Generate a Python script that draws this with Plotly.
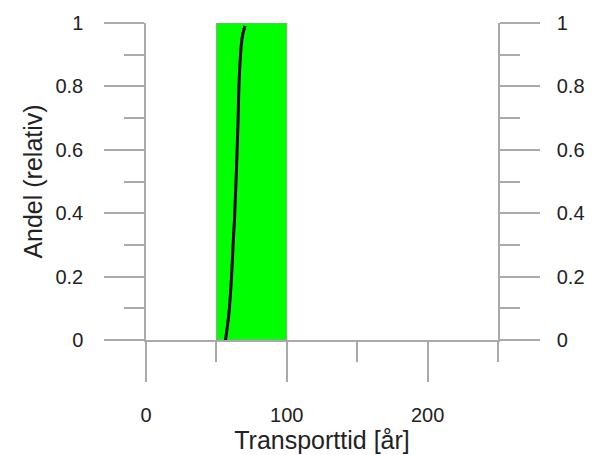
import plotly.graph_objects as go

# Data
interval_start = 50
interval_end = 100
curve_x = [56.5, 58.9, 60.6, 62.4, 62.9, 64.1, 65.3, 66.0, 67.2, 68.4, 70.3]
curve_y = [0.0, 0.084, 0.189, 0.347, 0.384, 0.521, 0.678, 0.799, 0.904, 0.957, 0.991]
x_ticks = [0, 100, 200]
y_ticks = [0, 0.2, 0.4, 0.6, 0.8, 1]
y_tick_labels = ["0", "0.2", "0.4", "0.6", "0.8", "1"]

AX = "#aaaaaa"
TXT = "#222222"
FONT = "Liberation Sans, Arial, sans-serif"

fig = go.Figure()
fig.add_trace(go.Scatter(
    x=[interval_start, interval_end, interval_end, interval_start, interval_start],
    y=[0, 0, 1, 1, 0],
    fill="toself", fillcolor="#00ff00",
    line=dict(color="#9a9a9a", width=1),
    mode="lines", hoverinfo="skip", showlegend=False,
))
fig.add_trace(go.Scatter(
    x=curve_x, y=curve_y, mode="lines",
    line=dict(color="black", width=3, shape="spline"),
    showlegend=False,
))
# invisible trace to activate right axis
fig.add_trace(go.Scatter(x=[0], y=[0], yaxis="y2", mode="markers",
                         marker=dict(opacity=0), showlegend=False, hoverinfo="skip"))

common_y = dict(
    range=[0, 1], showline=True, linecolor=AX, linewidth=1.5,
    ticks="outside", ticklen=40, tickwidth=1.5, tickcolor=AX,
    tickvals=y_ticks, ticktext=y_tick_labels,
    minor=dict(dtick=0.1, ticklen=20, tickwidth=1.5, tickcolor=AX, ticks="outside", showgrid=False),
    showgrid=False, zeroline=False, automargin=False,
    tickfont=dict(family=FONT, size=20, color=TXT),
)

fig.update_layout(
    width=594, height=447,
    margin=dict(l=138, r=104, t=15, b=115),
    paper_bgcolor="white", plot_bgcolor="white",
    font=dict(family=FONT, color=TXT),
    xaxis=dict(
        range=[0, 250], showline=True, linecolor=AX, linewidth=1.5,
        ticks="outside", ticklen=40, tickwidth=1.5, tickcolor=AX,
        tickvals=x_ticks,
        minor=dict(dtick=50, tick0=0, ticklen=20, tickwidth=1.5, tickcolor=AX, ticks="outside", showgrid=False),
        showgrid=False, zeroline=False, automargin=False,
        tickfont=dict(family=FONT, size=20, color=TXT),
        ticklabelstandoff=16,
        title=dict(text="Transporttid [år]", font=dict(family=FONT, size=25, color=TXT), standoff=0),
    ),
    yaxis=dict(
        **common_y,
        ticklabelstandoff=17,
        title=dict(text="Andel (relativ)", font=dict(family=FONT, size=25, color=TXT), standoff=6),
    ),
    yaxis2=dict(
        **common_y,
        overlaying="y", side="right",
        ticklabelstandoff=13,
    ),
)

fig.write_html("out.html")
